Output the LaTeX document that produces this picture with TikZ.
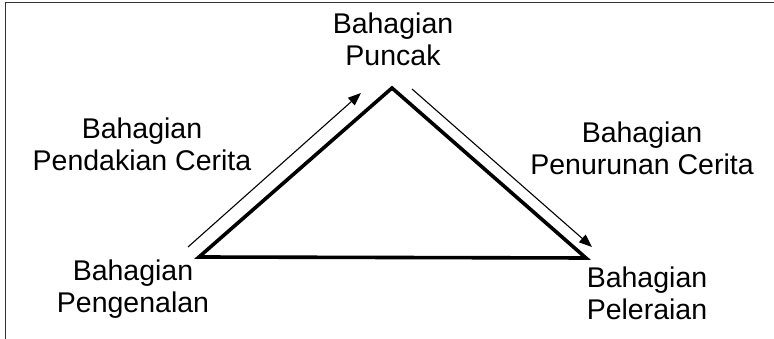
\documentclass[tikz,border=0pt]{standalone}
\usepackage{fontspec}
\setmainfont{Liberation Sans}
\usetikzlibrary{arrows.meta}
\begin{document}
\begin{tikzpicture}[x=1pt,y=1pt,
  lbl/.style={anchor=north,align=center,inner sep=0pt,font=\fontsize{28.5}{32}\selectfont},
  tri/.style={line width=3.6pt,line join=miter},
  flow/.style={line width=1.1pt,-{Triangle[length=13pt,width=10pt]}},
  frame/.style={line width=1pt,draw=black!80}]
\useasboundingbox (0,0) rectangle (774,339);
\draw[frame] (5,-10) rectangle (790,336);
% vertices
\coordinate (L) at (199,82);
\coordinate (A) at (392,251);
\coordinate (R) at (586,81);
\draw[tri] (L) -- (A) -- (R) -- cycle;
% arrows
\coordinate (u1) at (188,92);
\coordinate (u2) at (361,246);
\coordinate (d1) at (412,250);
\coordinate (d2) at (592,92);
\draw[flow] (u1) -- (u2);
\draw[flow] (d1) -- (d2);
% labels
\node[lbl] (puncak) at (393,326) {Bahagian\\Puncak};
\node[lbl] (pendakian) at (142,221) {Bahagian\\Pendakian Cerita};
\node[lbl] (pengenalan) at (133,79) {Bahagian\\Pengenalan};
\node[lbl] (penurunan) at (642,217) {Bahagian\\Penurunan Cerita};
\node[lbl] (peleraian) at (647,72) {Bahagian\\Peleraian};
\end{tikzpicture}
\end{document}
